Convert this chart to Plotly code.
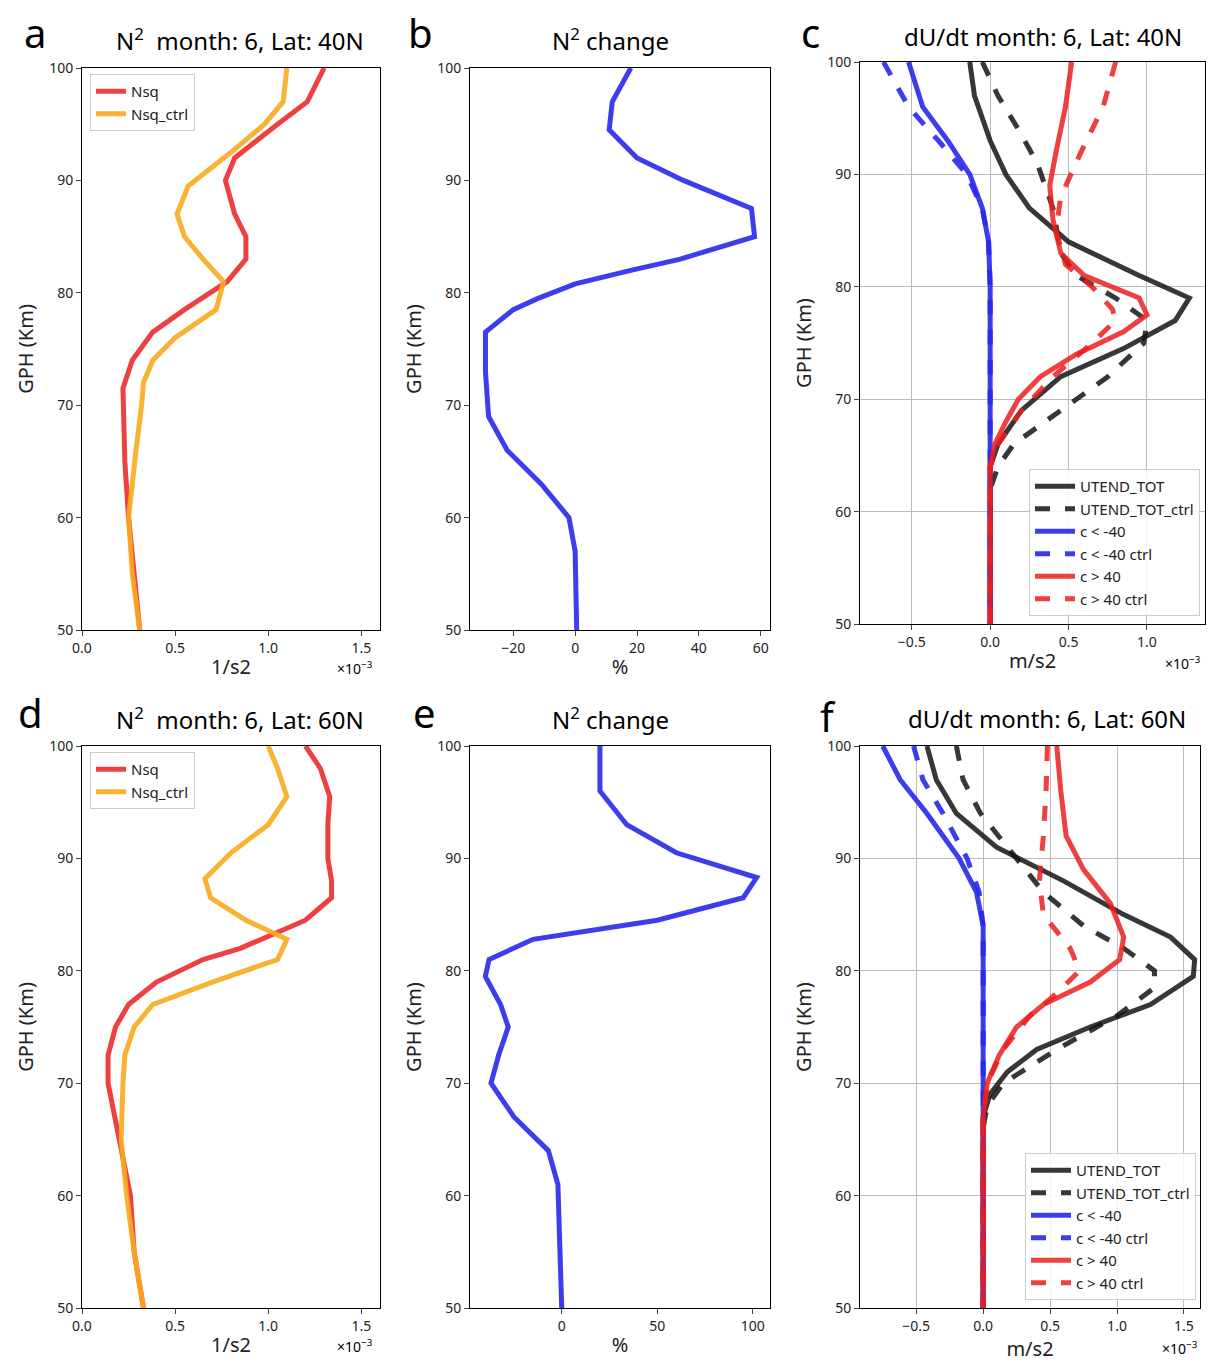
import plotly.graph_objects as go

# Panel a (40N) N^2 (x1e-3)
a_h_red = [100,97,95,92,90,87,85,83,81,78.5,76.5,74,71.5,65,60,55,50]
a_red = [1.30,1.21,1.05,0.82,0.77,0.82,0.88,0.88,0.78,0.55,0.38,0.27,0.22,0.23,0.25,0.28,0.31]
a_h_org = [100,97,95,92.5,89.5,87,85,83,81,78.5,76,74,72,70,66,60,55,50]
a_org = [1.10,1.08,0.98,0.80,0.57,0.51,0.55,0.65,0.76,0.72,0.50,0.38,0.33,0.32,0.29,0.25,0.27,0.31]
# Panel b
b_h = [100,97,94.5,92,90,87.5,85,83,82,80.8,79.5,78.5,76.5,73,69,66,63,60,57,50]
b_val = [18,12,11,20,35,57,58,34,18,0,-12,-20,-29,-29,-28,-22,-11,-2,0,0.5]
# Panel c
c_h_bk = [100,97,93,90,87,84,81,79,77,74.5,72,69,66,64,50]
c_bk = [-0.13,-0.10,0.0,0.10,0.25,0.50,0.95,1.27,1.18,0.85,0.45,0.20,0.05,0.0,0.0]
c_h_bkd = [100,97,94,91,87,83,81,79,77,75,72,69,66,64,62,50]
c_bkd = [-0.05,0.05,0.18,0.30,0.40,0.45,0.55,0.80,1.00,0.98,0.75,0.45,0.15,0.05,0.0,0.0]
c_h_bl = [100,96,93,90,87,84,80,50]
c_bl = [-0.52,-0.43,-0.27,-0.13,-0.05,-0.01,0.0,0.0]
c_bld = [-0.68,-0.52,-0.33,-0.15,-0.05,-0.01,0.0,0.0]
c_h_rd = [100,96,92,89,86,83,81,79,77.5,76,74,72,70,68,66,64,50]
c_rd = [0.52,0.48,0.42,0.38,0.40,0.45,0.60,0.95,1.0,0.85,0.55,0.32,0.18,0.10,0.03,0.0,0.0]
c_h_rdd = [100,96,92,88,85,82,80,78,77,75,72,69,66,64,50]
c_rdd = [0.80,0.72,0.58,0.45,0.42,0.48,0.65,0.78,0.80,0.65,0.40,0.20,0.05,0.0,0.0]
# Panel d (60N)
d_h = [100,98,95.5,93,90,88,86.5,84.5,82,81,79,77,75,72.5,70,65,60,55,50]
d_red = [1.20,1.28,1.33,1.32,1.32,1.34,1.34,1.20,0.85,0.65,0.40,0.25,0.18,0.14,0.14,0.20,0.26,0.28,0.33]
d_h_org = [100,98,95.5,93,90.5,88.2,86.5,84.5,82.8,81,79,77,75,72.5,70,65,60,55,50]
d_org = [1.00,1.05,1.10,1.00,0.80,0.66,0.69,0.88,1.10,1.05,0.70,0.38,0.28,0.23,0.22,0.21,0.24,0.28,0.33]
# Panel e
e_h = [100,96,93,90.5,88.3,86.5,84.5,82.8,81,79.5,77,75,72.5,70,67,64,61,55,50]
e_val = [20,20,34,60,102,95,50,-15,-38,-40,-32,-28,-33,-37,-25,-7,-2,-1,0]
# Panel f
f_h_bk = [100,97,94,91,88,85,83,81,79.5,77,75,73,71,69,67,50]
f_bk = [-0.42,-0.35,-0.20,0.10,0.60,1.05,1.40,1.58,1.57,1.25,0.80,0.40,0.18,0.05,0.0,0.0]
f_h_bkd = [100,97,94,90,87,84,82,80,78.5,76,73,70,68,66,50]
f_bkd = [-0.20,-0.15,-0.02,0.25,0.45,0.75,1.05,1.28,1.28,1.00,0.55,0.15,0.03,0.0,0.0]
f_h_bl = [100,97,94,90,87,84,50]
f_bl = [-0.75,-0.62,-0.42,-0.18,-0.05,0.0,0.0]
f_bld = [-0.52,-0.45,-0.30,-0.12,-0.03,0.0,0.0]
f_h_rd = [100,96,92,89,86,83,81,79,77,75,72.5,70,67,50]
f_rd = [0.55,0.58,0.62,0.75,0.95,1.05,1.02,0.80,0.45,0.25,0.12,0.03,0.0,0.0]
f_h_rdd = [100,96,92,88,85,82,80,78,76,73,70,67,50]
f_rdd = [0.48,0.47,0.45,0.42,0.45,0.65,0.72,0.55,0.35,0.15,0.03,0.0,0.0]

RED = "rgba(235,30,30,0.85)"
ORG = "rgba(250,170,30,0.9)"
BLU = "rgba(40,40,235,0.9)"
BLK = "rgba(20,20,20,0.85)"
W = 5

fig = go.Figure()
def tr(x, y, name, color, xa, ya, dash="solid", legend=None):
    fig.add_trace(go.Scatter(x=x, y=y, mode="lines", name=name,
        line=dict(color=color, width=W, dash=dash), xaxis=xa, yaxis=ya,
        showlegend=legend is not None, legend=legend or "legend"))

tr(a_red, a_h_red, "Nsq", RED, "x", "y", legend="legend")
tr(a_org, a_h_org, "Nsq_ctrl", ORG, "x", "y", legend="legend")
tr(b_val, b_h, "", BLU, "x2", "y2")
for (x, h, n, c, d) in [(c_bk, c_h_bk, "UTEND_TOT", BLK, "solid"), (c_bkd, c_h_bkd, "UTEND_TOT_ctrl", BLK, "dash"),
                        (c_bl, c_h_bl, "c < -40", BLU, "solid"), (c_bld, c_h_bl, "c < -40 ctrl", BLU, "dash"),
                        (c_rd, c_h_rd, "c > 40", RED, "solid"), (c_rdd, c_h_rdd, "c > 40 ctrl", RED, "dash")]:
    tr(x, h, n, c, "x3", "y3", d, legend="legend2")
tr(d_red, d_h, "Nsq", RED, "x4", "y4", legend="legend3")
tr(d_org, d_h_org, "Nsq_ctrl", ORG, "x4", "y4", legend="legend3")
tr(e_val, e_h, "", BLU, "x5", "y5")
for (x, h, n, c, d) in [(f_bk, f_h_bk, "UTEND_TOT", BLK, "solid"), (f_bkd, f_h_bkd, "UTEND_TOT_ctrl", BLK, "dash"),
                        (f_bl, f_h_bl, "c < -40", BLU, "solid"), (f_bld, f_h_bl, "c < -40 ctrl", BLU, "dash"),
                        (f_rd, f_h_rd, "c > 40", RED, "solid"), (f_rdd, f_h_rdd, "c > 40 ctrl", RED, "dash")]:
    tr(x, h, n, c, "x6", "y6", d, legend="legend4")

Wd, Ht = 1225, 1362
OFF = 8  # page body margin offset
def X(a): return (a - OFF) / Wd
def Y(b): return 1 - (b - OFF) / Ht
def px(a, b): return [X(a), X(b)]
def py(top, bot): return [Y(bot), Y(top)]

ax = dict(showline=True, mirror=True, linecolor="black", linewidth=1, ticks="outside",
          tickfont=dict(size=14, color="#222"), zeroline=False, showgrid=False, automargin=False)
panels = [
    ("", "y", px(82, 380), py(68, 630), [0, 1.6], [0, 0.5, 1.0, 1.5], ["0.0", "0.5", "1.0", "1.5"], "1/s2", False),
    ("2", "y2", px(470, 770), py(68, 630), [-34, 63], [-20, 0, 20, 40, 60], None, "%", False),
    ("3", "y3", px(860, 1205), py(62, 624), [-0.83, 1.37], [-0.5, 0, 0.5, 1.0], ["−0.5", "0.0", "0.5", "1.0"], "m/s2", True),
    ("4", "y4", px(82, 380), py(746, 1308), [0, 1.6], [0, 0.5, 1.0, 1.5], ["0.0", "0.5", "1.0", "1.5"], "1/s2", False),
    ("5", "y5", px(470, 770), py(746, 1308), [-48, 109], [0, 50, 100], None, "%", False),
    ("6", "y6", px(860, 1200), py(746, 1308), [-0.92, 1.62], [-0.5, 0, 0.5, 1.0, 1.5], ["−0.5", "0.0", "0.5", "1.0", "1.5"], "m/s2", True),
]
lay = {}
for s, yname, xd, yd, xr, tv, tt, xt, grid in panels:
    xa = dict(ax, domain=xd, range=xr, anchor=yname, tickvals=tv, showgrid=grid, gridcolor="#bbb",
              title=dict(text=xt, font=dict(size=20, color="#222"), standoff=4))
    if tt: xa["ticktext"] = tt
    ya = dict(ax, domain=yd, range=[50, 100], anchor="x" + s, tickvals=[50, 60, 70, 80, 90, 100],
              showgrid=grid, gridcolor="#bbb",
              title=dict(text="GPH (Km)", font=dict(size=20, color="#222"), standoff=10))
    lay["xaxis" + s] = xa
    lay["yaxis" + s] = ya

fig.update_layout(**lay)
leg = dict(bgcolor="rgba(255,255,255,0.85)", bordercolor="#ccc", borderwidth=1,
           font=dict(size=15, color="#222"), tracegroupgap=0)
fig.update_layout(
    width=Wd, height=Ht, margin=dict(l=0, r=0, t=0, b=0, autoexpand=False), plot_bgcolor="white", paper_bgcolor="white",
    font=dict(family="Noto Sans, DejaVu Sans"),
    legend=dict(leg, x=X(90), y=Y(74), xanchor="left", yanchor="top", itemwidth=30),
    legend2=dict(leg, x=X(1200), y=Y(616), xanchor="right", yanchor="bottom", itemwidth=40),
    legend3=dict(leg, x=X(90), y=Y(752), xanchor="left", yanchor="top", itemwidth=30),
    legend4=dict(leg, x=X(1196), y=Y(1300), xanchor="right", yanchor="bottom", itemwidth=40),
)
ann = []
def t(x, y, text, size):
    ann.append(dict(x=X(x), y=Y(y), xref="paper", yref="paper", text=text, showarrow=False,
                    xanchor="center", yanchor="middle", font=dict(size=size, color="black")))
for (x, y, s) in [(35, 32, "a"), (420, 32, "b"), (810, 32, "c"), (30, 712, "d"), (425, 712, "e"), (828, 716, "f")]:
    t(x, y, s, 40)
t(240, 40, "N<sup>2</sup>  month: 6, Lat: 40N", 24)
t(610, 40, "N<sup>2</sup> change", 24)
t(1043, 36, "dU/dt month: 6, Lat: 40N", 24)
t(240, 718, "N<sup>2</sup>  month: 6, Lat: 60N", 24)
t(610, 718, "N<sup>2</sup> change", 24)
t(1047, 718, "dU/dt month: 6, Lat: 60N", 24)
for (x, y) in [(355, 668), (1183, 663), (355, 1346), (1180, 1348)]:
    t(x, y, "×10<sup>−3</sup>", 14)
fig.update_layout(annotations=ann)
fig.write_html("out.html")
